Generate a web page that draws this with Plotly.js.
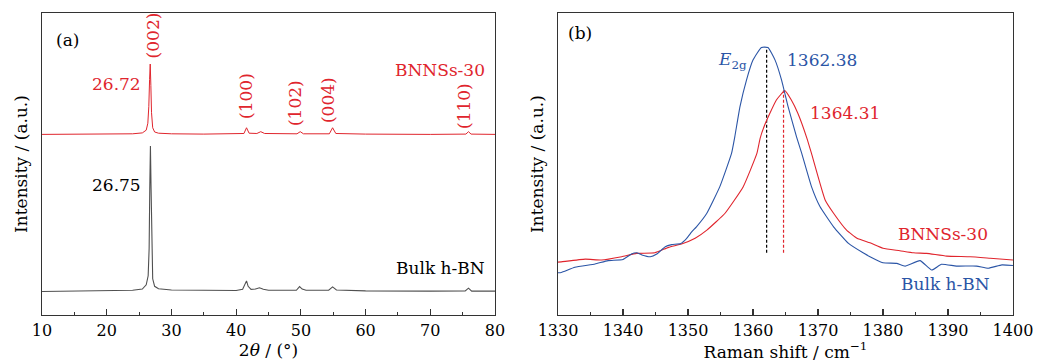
<!DOCTYPE html>
<html>
<head>
<meta charset="utf-8">
<script src="https://cdn.plot.ly/plotly-3.0.1.min.js"></script>
<style>
html,body{margin:0;padding:0;background:#fff;}
#chart{width:1043px;height:363px;}
</style>
</head>
<body>
<div id="chart"></div>
<script>
// ---- Panel (a): XRD patterns (2theta in degrees, offset intensity in a.u.) ----
const xrdBulkX = [10, 15, 20, 24, 25.5, 26.1, 26.4, 26.55, 26.65, 26.75, 26.85, 26.95, 27.1, 27.4, 28, 30, 35, 40, 41.0, 41.35, 41.6, 41.85, 42.3, 43.0, 43.6, 44.2, 45, 49.3, 49.8, 50.2, 50.8, 54.3, 54.9, 55.5, 60, 70, 75.4, 75.9, 76.4, 80];
const xrdBulkY = [7.8, 7.9, 8.0, 8.2, 8.6, 10, 13, 22, 42, 56, 42, 22, 12, 9.5, 8.7, 8.3, 8.1, 8.1, 8.5, 10, 11.3, 9.5, 8.5, 8.6, 9.0, 8.5, 8.2, 8.2, 9.4, 8.6, 8.2, 8.2, 9.3, 8.3, 8.0, 7.9, 8.0, 8.9, 7.9, 7.9];
const xrdBnnsX = [10, 15, 20, 24, 25.5, 26.1, 26.35, 26.5, 26.62, 26.72, 26.82, 26.92, 27.1, 27.4, 28, 30, 35, 40, 41.2, 41.6, 42.0, 43.2, 43.8, 44.4, 49.4, 49.9, 50.4, 54.4, 54.9, 55.4, 60, 70, 75.5, 75.9, 76.3, 80];
const xrdBnnsY = [59.8, 59.8, 59.9, 60.0, 60.3, 61.2, 63.5, 69, 78, 83.1, 76, 67, 62, 60.6, 60.2, 60.0, 59.9, 59.9, 60.1, 62.0, 60.2, 60.1, 60.7, 60.1, 60.0, 60.7, 60.0, 60.0, 62.0, 60.1, 59.9, 59.8, 59.9, 60.7, 59.9, 59.8];
const xrdPeakLabels = ["(002)", "(100)", "(102)", "(004)", "(110)"];
const xrdPeakLabelX = [27.2, 41.5, 49.1, 54.2, 75.2];
const xrdPeakLabelY = [92.7, 72.5, 70.2, 71.2, 69.2];
const xrdPeakPos = ["26.72", "26.75"];

// ---- Panel (b): Raman spectra (Raman shift in cm^-1) ----
const ramanBulkX = [1330, 1330.5, 1332.6, 1335.7, 1337.7, 1340, 1341.3, 1342.1, 1342.9, 1344.2, 1345.2, 1346.5, 1347.5, 1348.9, 1349.8, 1350.6, 1351.3, 1352.9, 1354.9, 1356.7, 1357.2, 1358.0, 1359.0, 1360.0, 1361.3, 1362.3, 1363.4, 1364.4, 1365.4, 1366.7, 1367.5, 1369.0, 1370.3, 1372.4, 1374.7, 1377, 1378, 1380, 1382.1, 1383.4, 1385.7, 1387.5, 1389, 1391.3, 1394.4, 1396.2, 1398.3, 1400];
const ramanBulkY = [14.0, 14.1, 15.8, 16.9, 18, 18.4, 20.2, 20.6, 19.9, 19.3, 20.2, 22.6, 23.3, 23.7, 25.4, 27.6, 29.2, 33.7, 42.5, 53.5, 59, 69, 77.8, 84.4, 88.6, 88.6, 84.4, 77.8, 69, 59, 53.5, 42.5, 35.9, 29.2, 23.7, 20.5, 19.3, 17.3, 17.1, 16.2, 18, 14.9, 16.8, 16.2, 16.2, 15.5, 16.6, 16.4];
const ramanBnnsX = [1330, 1330.5, 1334.2, 1336.7, 1339.8, 1342.1, 1344.9, 1347, 1349, 1351.1, 1352.9, 1355.7, 1358.5, 1360.6, 1361.1, 1361.8, 1362.6, 1363.6, 1364.9, 1365.9, 1366.9, 1368.3, 1369, 1371.1, 1372.4, 1374.4, 1376, 1378, 1380, 1382.6, 1384.7, 1386.7, 1389.8, 1393.4, 1396.5, 1400];
const ramanBnnsY = [17.5, 17.6, 18.5, 18.2, 19.3, 20.4, 20.6, 22.4, 23.5, 25.4, 28.1, 33.7, 42.5, 53.5, 58.5, 62.9, 66.8, 71.2, 74.3, 71.2, 66.8, 58.5, 53.5, 38.1, 33.7, 28.1, 25.4, 23.9, 22.1, 21.3, 20.6, 20.4, 19.5, 19.3, 18.8, 18.2];
const ramanPeakX = [1362.1, 1364.7];
const ramanPeakTop = [88.6, 74.3];
const ramanDashBottom = 20.6;
const ramanPeakLabels = ["1362.38", "1364.31"];

const RED = "#e0252d", BLUE = "#2b55a6", GRAY = "#505050", AXC = "#333333";
const FONT = "DejaVu Serif";

const traces = [
  {x: xrdBnnsX, y: xrdBnnsY, xaxis: "x", yaxis: "y", mode: "lines", line: {color: RED, width: 1}},
  {x: xrdBulkX, y: xrdBulkY, xaxis: "x", yaxis: "y", mode: "lines", line: {color: GRAY, width: 1.1}},
  {x: [ramanPeakX[0], ramanPeakX[0]], y: [ramanDashBottom, ramanPeakTop[0]], xaxis: "x2", yaxis: "y2", mode: "lines", line: {color: "#000", width: 1.2, dash: "3px,2px"}},
  {x: [ramanPeakX[1], ramanPeakX[1]], y: [ramanDashBottom, ramanPeakTop[1]], xaxis: "x2", yaxis: "y2", mode: "lines", line: {color: RED, width: 1.2, dash: "3px,2px"}},
  {x: ramanBnnsX, y: ramanBnnsY, xaxis: "x2", yaxis: "y2", mode: "lines", line: {color: RED, width: 1.1, shape: "spline", smoothing: 0.4}},
  {x: ramanBulkX, y: ramanBulkY, xaxis: "x2", yaxis: "y2", mode: "lines", line: {color: BLUE, width: 1.1, shape: "spline", smoothing: 0.4}}
];

const annFont = (c) => ({family: FONT, size: 17, color: c});
const annotations = [
  {xref: "x", yref: "y", x: 13.9, y: 91, text: "(a)", showarrow: false, font: annFont("#000")},
  {xref: "x", yref: "y", x: 25.6, y: 76.5, text: xrdPeakPos[0], showarrow: false, xanchor: "right", font: annFont(RED)},
  {xref: "x", yref: "y", x: 25.6, y: 43, text: xrdPeakPos[1], showarrow: false, xanchor: "right", font: annFont("#000")},
  {xref: "x", yref: "y", x: 78.8, y: 81.1, text: "BNNSs-30", showarrow: false, xanchor: "right", font: annFont(RED)},
  {xref: "x", yref: "y", x: 78.8, y: 15.6, text: "Bulk h-BN", showarrow: false, xanchor: "right", font: annFont("#000")},
  {xref: "x2", yref: "y2", x: 1333.4, y: 93.4, text: "(b)", showarrow: false, font: annFont("#000")},
  {xref: "x2", yref: "y2", x: 1359.4, y: 84.4, text: "<i>E</i><sub>2g</sub>", showarrow: false, xanchor: "right", font: annFont(BLUE)},
  {xref: "x2", yref: "y2", x: 1364.9, y: 84.4, text: ramanPeakLabels[0], showarrow: false, xanchor: "left", font: annFont(BLUE)},
  {xref: "x2", yref: "y2", x: 1368.5, y: 66.9, text: ramanPeakLabels[1], showarrow: false, xanchor: "left", font: annFont(RED)},
  {xref: "x2", yref: "y2", x: 1396.5, y: 26.8, text: "BNNSs-30", showarrow: false, xanchor: "right", font: annFont(RED)},
  {xref: "x2", yref: "y2", x: 1396.8, y: 10.3, text: "Bulk h-BN", showarrow: false, xanchor: "right", font: annFont(BLUE)}
];
for (let i = 0; i < xrdPeakLabels.length; i++) {
  annotations.push({xref: "x", yref: "y", x: xrdPeakLabelX[i], y: xrdPeakLabelY[i], text: xrdPeakLabels[i], textangle: -90, showarrow: false, font: annFont(RED)});
}

const xBase = {
  showline: true, linecolor: AXC, linewidth: 1.3, mirror: true,
  ticks: "inside", ticklen: 6, tickwidth: 1.2, tickcolor: AXC,
  showgrid: false, zeroline: false,
  tickfont: {family: FONT, size: 16, color: "#000"},
  minor: {ticks: "inside", ticklen: 3, tickwidth: 1, tickcolor: AXC, dtick: 5, showgrid: false}
};
const yBase = {
  showline: true, linecolor: AXC, linewidth: 1.3, mirror: true,
  ticks: "", showticklabels: false, showgrid: false, zeroline: false, range: [0, 100],
  domain: [0.1322, 0.9642]
};
const titleFont = {family: FONT, size: 17, color: "#000"};

const layout = {
  width: 1043, height: 363,
  margin: {l: 0, r: 0, t: 0, b: 0},
  paper_bgcolor: "#fff", plot_bgcolor: "#fff",
  showlegend: false,
  font: {family: FONT},
  xaxis: Object.assign({}, xBase, {domain: [0.0403, 0.4746], range: [10, 80], dtick: 10, tick0: 10, anchor: "y",
    title: {text: "2<i>θ</i> / (°)", font: titleFont, standoff: 4}}),
  yaxis: Object.assign({}, yBase, {anchor: "x",
    title: {text: "Intensity / (a.u.)", font: titleFont, standoff: 8}}),
  xaxis2: Object.assign({}, xBase, {domain: [0.535, 0.9712], range: [1330, 1400], dtick: 10, tick0: 1330, anchor: "y2",
    title: {text: "Raman shift / cm<sup>−1</sup>", font: titleFont, standoff: 4}}),
  yaxis2: Object.assign({}, yBase, {anchor: "x2",
    title: {text: "Intensity / (a.u.)", font: titleFont, standoff: 8}}),
  annotations: annotations
};

Plotly.newPlot("chart", traces, layout, {staticPlot: true, displayModeBar: false});
</script>
</body>
</html>
